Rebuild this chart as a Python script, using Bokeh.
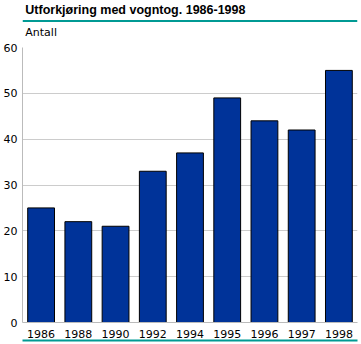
from bokeh.plotting import figure
from bokeh.models import Label, Span, FixedTicker, Range1d, CategoricalAxis
from bokeh.layouts import column
from bokeh.embed import file_html
from bokeh.resources import INLINE

years = ["1986", "1988", "1990", "1992", "1994", "1995", "1996", "1997", "1998"]
values = [25, 22, 21, 33, 37, 49, 44, 42, 55]
y_ticks = [0, 10, 20, 30, 40, 50, 60]
title_text = "Utforkjøring med vogntog. 1986-1998"
unit_text = "Antall"

TEAL = "#009a94"
W = 361

# header strip (title, rule, unit)
h = figure(width=W, height=41, x_range=Range1d(0, W), y_range=Range1d(41, 0),
           x_axis_type=None, y_axis_type=None, output_backend="svg", toolbar_location=None,
           min_border=0)
h.grid.visible = False
h.outline_line_color = None
h.add_layout(Label(x=3, y=9, text=title_text, text_baseline="middle",
                   text_font="Liberation Sans", text_font_style="bold", text_font_size="12.5px",
                   text_color="#000000"))
h.add_layout(Span(location=20.5, dimension="width", line_color=TEAL, line_width=2))
h.add_layout(Label(x=3, y=32, text=unit_text, text_baseline="middle",
                   text_font="DejaVu Sans", text_font_size="11px", text_color="#000000"))

# main chart
p = figure(x_range=years, y_range=(0, 60), width=W, height=303,
           output_backend="svg", toolbar_location=None,
           min_border_left=21, min_border_right=4, min_border_top=6, min_border_bottom=22)
p.vbar(x=years, top=values, width=0.72, fill_color="#003399", line_color="#000000", line_width=1)

p.yaxis.ticker = FixedTicker(ticks=y_ticks)
p.ygrid.ticker = FixedTicker(ticks=y_ticks[1:])
p.xgrid.grid_line_color = None
p.ygrid.grid_line_color = "#cccccc"
for ax in (p.xaxis, p.yaxis):
    ax.axis_line_color = "#bbbbbb"
    ax.major_tick_out = 0
    ax.major_tick_in = 0
    ax.minor_tick_line_color = None
    ax.major_label_text_font = "DejaVu Sans"
    ax.major_label_text_font_size = "11px"
    ax.major_label_text_color = "#000000"
p.yaxis.major_label_standoff = 5
p.xaxis.major_label_standoff = 7
p.outline_line_color = None

# footer rule drawn as an extra, label-free axis below the category axis
foot = CategoricalAxis(axis_line_color=TEAL, axis_line_width=2,
                       major_tick_out=0, major_tick_in=0, major_tick_line_color=None,
                       minor_tick_line_color=None,
                       major_label_standoff=0, major_label_text_font_size="0px",
                       major_label_text_color=None)
p.add_layout(foot, "below")

layout = column(h, p, spacing=0)
open("out.html", "w").write(file_html(layout, INLINE))
